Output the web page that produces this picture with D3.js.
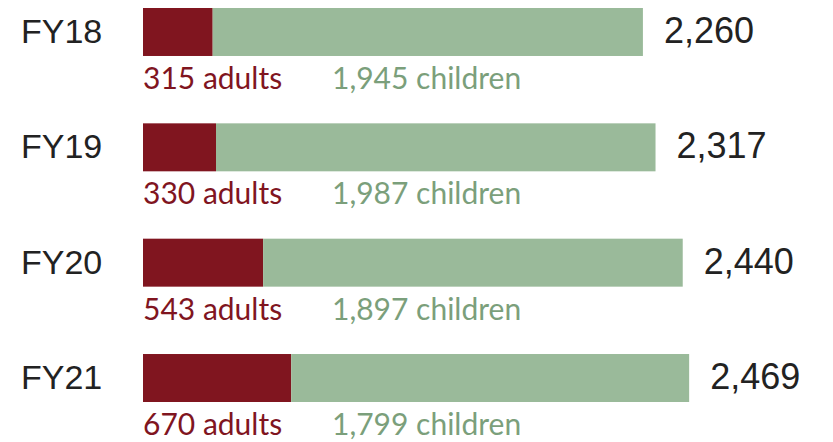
<!DOCTYPE html>
<html>
<head>
<meta charset="utf-8">
<script src="https://cdn.jsdelivr.net/npm/d3@7"></script>
<style>
  body { margin: 0; background: #fff; }
</style>
</head>
<body>
<svg id="chart" width="833" height="442"></svg>
<script>
var years = ["FY18", "FY19", "FY20", "FY21"];
var adults = [315, 330, 543, 670];
var children = [1945, 1987, 1897, 1799];
var totals = [2260, 2317, 2440, 2469];

var rows = years.map(function(y, i) {
    return { year: y, adults: adults[i], children: children[i], total: totals[i] };
});

var svg = d3.select("#chart");
var fmt = d3.format(",");

var x = d3.scaleLinear().domain([0, 2500]).range([143, 696]);
var y = d3.scaleBand().domain(years).range([8, 402]).paddingInner(0.584).paddingOuter(0);

var g = svg.selectAll(".row")
    .data(rows)
  .enter()
    .append("g")
    .attr("class", "row")
    .attr("transform", function(d) { return "translate(0," + y(d.year) + ")"; });

g.append("rect")
    .attr("x", x(0))
    .attr("width", function(d) { return x(d.adults) - x(0); })
    .attr("height", y.bandwidth())
    .attr("fill", "#80151f");

g.append("rect")
    .attr("x", function(d) { return x(d.adults); })
    .attr("width", function(d) { return x(d.total) - x(d.adults); })
    .attr("height", y.bandwidth())
    .attr("fill", "#9aba9a");

g.append("text")
    .attr("x", 21)
    .attr("y", 35)
    .attr("font-family", "Liberation Sans, Arial, sans-serif")
    .attr("font-size", 34)
    .attr("fill", "#222")
    .text(function(d) { return d.year; });

g.append("text")
    .attr("x", function(d) { return x(d.total) + 21; })
    .attr("y", 35)
    .attr("font-family", "Liberation Sans, Arial, sans-serif")
    .attr("font-size", 36)
    .attr("fill", "#222")
    .text(function(d) { return fmt(d.total); });

g.append("text")
    .attr("x", x(0))
    .attr("y", 81)
    .attr("font-family", "Lato, sans-serif")
    .attr("font-size", 30)
    .attr("fill", "#80151f")
    .text(function(d) { return fmt(d.adults) + " adults"; });

g.append("text")
    .attr("x", 332)
    .attr("y", 81)
    .attr("font-family", "Lato, sans-serif")
    .attr("font-size", 30)
    .attr("fill", "#7b9f7b")
    .text(function(d) { return fmt(d.children) + " children"; });
</script>
</body>
</html>
